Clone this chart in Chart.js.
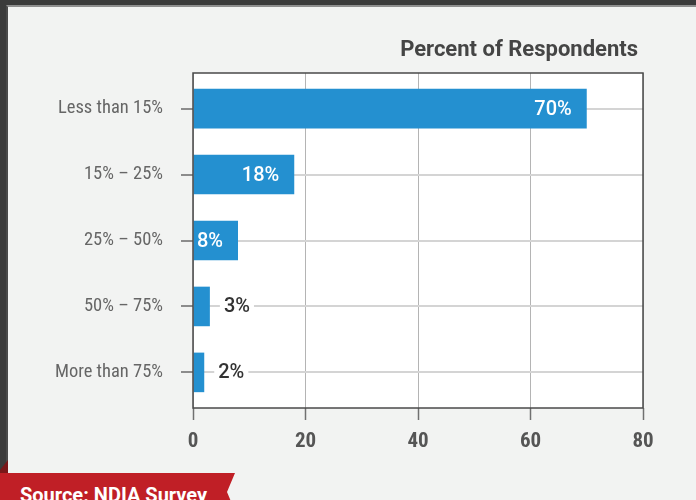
<!DOCTYPE html>
<html>
<head>
<meta charset="utf-8">
<script src="https://cdn.jsdelivr.net/npm/chart.js@4.4.1/dist/chart.umd.min.js"></script>
<style>
    html, body {
        margin: 0;
        padding: 0;
        width: 696px;
        height: 500px;
        overflow: hidden;
        background: #3b3b3b;
        font-family: Roboto, 'Noto Sans', sans-serif;
    }
    .panel {
        position: absolute;
        left: 6px;
        top: 5px;
        width: 720px;
        height: 520px;
        background: #f2f3f2;
        border-left: 2px solid #4a4a4a;
        border-top: 2px solid #8f8f8f;
    }
    .chart-box {
        position: absolute;
        left: 0;
        top: 0;
        width: 696px;
        height: 500px;
    }
    .chart-title {
        position: absolute;
        right: 58px;
        top: 36px;
        font: bold 22px Roboto, sans-serif;
        line-height: normal;
        color: #454545;
        white-space: nowrap;
    }
    .fold {
        position: absolute;
        left: 0;
        top: 460px;
        width: 8px;
        height: 13px;
        background: #7a1719;
        clip-path: polygon(0 10px, 8px 0, 8px 13px, 0 13px);
    }
    .source {
        position: absolute;
        left: 0;
        top: 473px;
        width: 235px;
        height: 40px;
        background: #c01f26;
        clip-path: polygon(0 0, 235px 0, 227px 19px, 235px 38px, 0 38px);
    }
    .source span {
        position: absolute;
        left: 20px;
        top: 10px;
        font: bold 20px Roboto, sans-serif;
        line-height: normal;
        color: #ffffff;
        white-space: nowrap;
    }
</style>
</head>
<body>
<div class="panel"></div>
<div class="chart-box"><canvas id="respondentsChart"></canvas></div>
<div class="chart-title">Percent of Respondents</div>
<div class="fold"></div>
<div class="source"><span>Source: NDIA Survey</span></div>

<script>
// 응답 구간과 비율
const categories = ['Less than 15%', '15% – 25%', '25% – 50%', '50% – 75%', 'More than 75%'];
const percents = [70, 18, 8, 3, 2];
const xTicks = [0, 20, 40, 60, 80];

const barColor = '#2490d0';
const condensed = "'Roboto Condensed', 'Liberation Sans Narrow', Roboto, sans-serif";

// 흰색 플롯 배경 + 테두리
const plotFrame = {
    id: 'plotFrame',
    beforeDraw(chart) {
        const { ctx, chartArea: a } = chart;
        ctx.save();
        ctx.fillStyle = '#ffffff';
        ctx.fillRect(a.left, a.top, a.right - a.left, a.bottom - a.top);
        ctx.restore();
    },
    afterDatasetsDraw(chart) {
        const { ctx, chartArea: a } = chart;
        ctx.save();
        ctx.strokeStyle = '#4a4a4a';
        ctx.lineWidth = 1.5;
        ctx.strokeRect(a.left, a.top, a.right - a.left, a.bottom - a.top);
        ctx.restore();
    }
};

// 막대 끝 값 라벨 (안에 들어가면 흰색, 아니면 바깥에)
const valueLabels = {
    id: 'valueLabels',
    afterDatasetsDraw(chart) {
        const { ctx } = chart;
        const meta = chart.getDatasetMeta(0);
        ctx.save();
        ctx.font = '500 20px Roboto, sans-serif';
        ctx.textBaseline = 'middle';
        meta.data.forEach((bar, i) => {
            const text = percents[i] + '%';
            const w = ctx.measureText(text).width;
            const barLen = bar.x - bar.base;
            if (barLen >= w + 17) {
                ctx.fillStyle = '#ffffff';
                ctx.textAlign = 'right';
                ctx.fillText(text, bar.x - 15, bar.y + 1);
            } else {
                const x = bar.x + 14;
                ctx.fillStyle = '#ffffff';
                ctx.fillRect(x - 4, bar.y - 11, w + 8, 22);
                ctx.fillStyle = '#333333';
                ctx.textAlign = 'left';
                ctx.fillText(text, x, bar.y + 1);
            }
        });
        ctx.restore();
    }
};

const respondentsChart = new Chart(document.getElementById('respondentsChart'), {
    type: 'bar',
    data: {
        labels: categories,
        datasets: [{
            data: percents,
            backgroundColor: barColor,
            borderWidth: 0,
            barPercentage: 0.6,
            categoryPercentage: 1
        }]
    },
    options: {
        indexAxis: 'y',
        responsive: true,
        maintainAspectRatio: false,
        animation: false,
        layout: { padding: { top: 73, right: 53, bottom: 0, left: 0 } },
        plugins: {
            legend: { display: false },
            tooltip: { enabled: false }
        },
        scales: {
            x: {
                min: xTicks[0],
                max: xTicks[xTicks.length - 1],
                afterBuildTicks: scale => {
                    scale.ticks = xTicks.map(v => ({ value: v }));
                },
                afterFit: scale => { scale.height = 92; },
                border: { display: false },
                grid: {
                    color: '#b4b4b4',
                    lineWidth: 1,
                    tickColor: '#707070',
                    tickLength: 12,
                    tickWidth: 1.5
                },
                ticks: {
                    padding: 9,
                    color: '#555555',
                    font: { family: condensed, size: 21, weight: 'bold' }
                }
            },
            y: {
                // 위아래 여백을 반 칸보다 조금 넓게
                afterBuildTicks: scale => {
                    scale._startValue = -0.54;
                    scale._valueRange = categories.length + 0.08;
                },
                afterFit: scale => { scale.width = 193; },
                border: { display: false },
                grid: {
                    offset: false,
                    color: '#d4d4d4',
                    lineWidth: 2,
                    tickColor: '#8c8c8c',
                    tickLength: 12,
                    tickWidth: 2
                },
                ticks: {
                    padding: 18,
                    color: '#666666',
                    font: { family: condensed, size: 18.5 }
                }
            }
        }
    },
    plugins: [plotFrame, valueLabels]
});
</script>
</body>
</html>
